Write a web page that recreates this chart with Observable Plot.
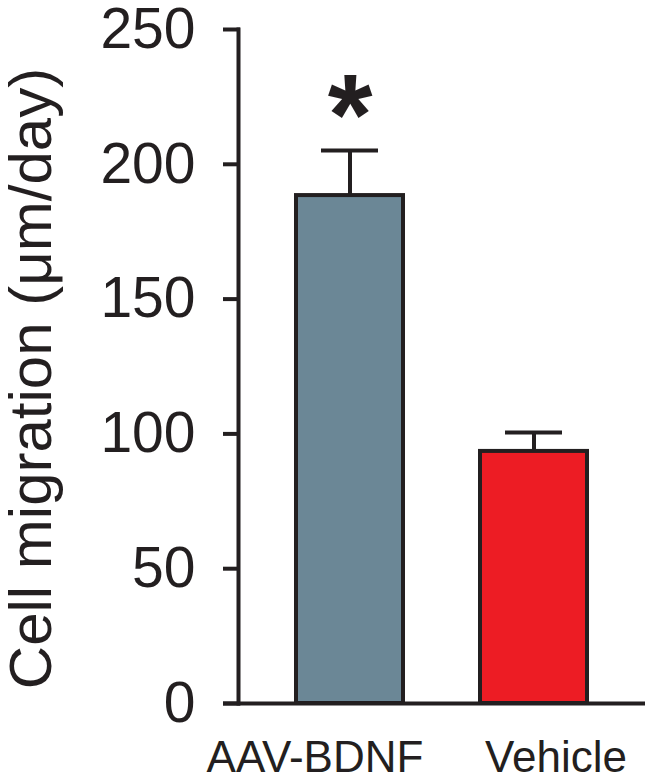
<!DOCTYPE html>
<html><head><meta charset="utf-8">
<script src="https://cdn.jsdelivr.net/npm/d3@7"></script>
<script src="https://cdn.jsdelivr.net/npm/@observablehq/plot@0.6"></script>
<style>body{margin:0;background:#fff}</style>
</head><body><div id="chart"></div>
<script>
const categories = ["AAV-BDNF", "Vehicle"];
const means = [188.4, 93.5];
const errors = [16.7, 7.0];
const fills = ["#6b8796", "#ed1c24"];
const yTicks = [0, 50, 100, 150, 200, 250];
const yLabel = "Cell migration (μm/day)";
const sigMark = ["*", ""];

const data = categories.map((c, i) => ({group: c, mean: means[i], hi: means[i] + errors[i], color: fills[i], sig: sigMark[i]}));

const ink = "#231f20";
const chart = Plot.plot({
  width: 653, height: 781,
  marginLeft: 238, marginRight: 8, marginTop: 29, marginBottom: 78,
  style: {fontFamily: "'Liberation Sans', Arial, sans-serif", color: ink, background: "#fff"},
  x: {domain: categories, paddingInner: 0.4185, paddingOuter: 0.315, align: 0.5, axis: null},
  y: {domain: [0, 250], axis: null},
  color: {type: "identity"},
  marks: [
    Plot.ruleX(data, {x: "group", y1: "mean", y2: "hi", stroke: ink, strokeWidth: 4}),
    Plot.tickY(data, {x: "group", y: "hi", stroke: ink, strokeWidth: 4, insetLeft: 25, insetRight: 25}),
    Plot.barY(data, {x: "group", y: "mean", fill: "color", stroke: ink, strokeWidth: 4}),
    Plot.text(data, {x: "group", y: "hi", text: "sig", fontSize: 115, fontWeight: "bold", dy: -33, fill: ink}),
    Plot.axisY(yTicks, {tickSize: 0, tickPadding: 43, fontSize: 57, label: null, fill: ink}),
    Plot.ruleY(yTicks, {stroke: ink, strokeWidth: 4, insetLeft: -15, insetRight: 405}),
    Plot.frame({anchor: "left", stroke: ink, strokeWidth: 4}),
    Plot.ruleY([0], {stroke: ink, strokeWidth: 4, insetLeft: -15}),
    Plot.axisX([categories[0]], {tickSize: 0, tickPadding: 37, fontSize: 44, dx: -35, label: null, fill: ink}),
    Plot.axisX([categories[1]], {tickSize: 0, tickPadding: 37, fontSize: 44, dx: 22, label: null, fill: ink}),
    Plot.text([yLabel], {frameAnchor: "left", textAnchor: "middle", rotate: -90, fontSize: 60, dx: -207, dy: 12, fill: ink})
  ]
});
document.getElementById("chart").appendChild(chart);
</script>
</body></html>
